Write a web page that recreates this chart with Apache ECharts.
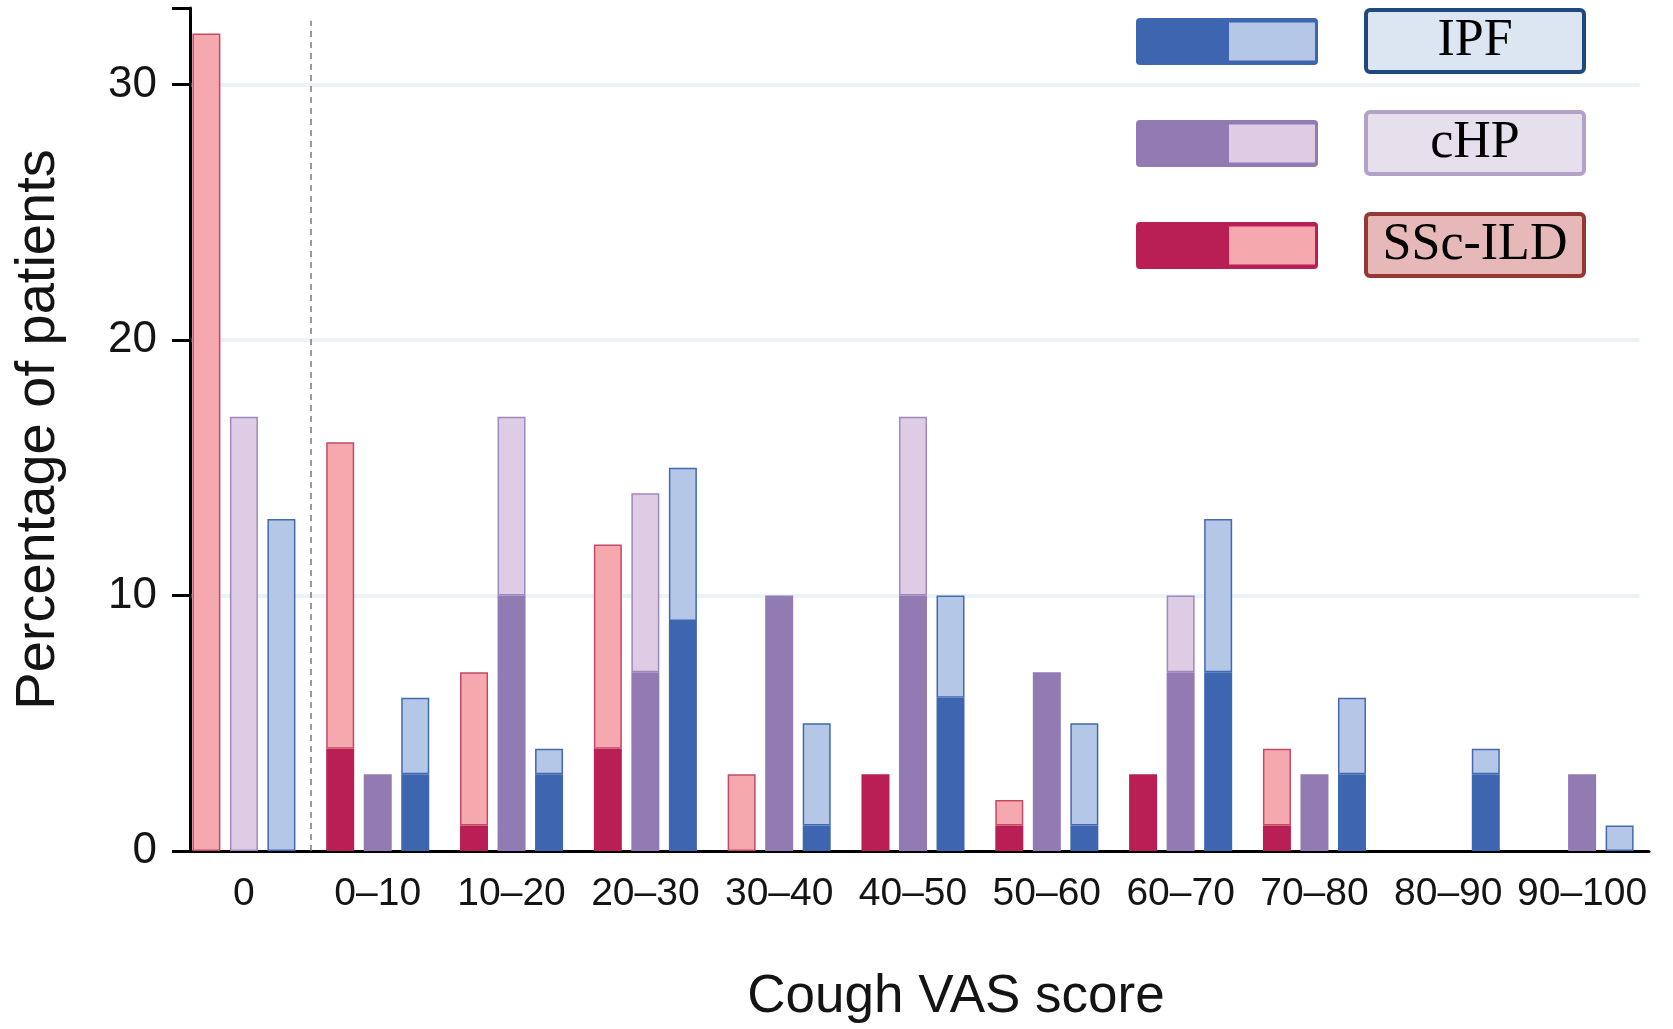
<!DOCTYPE html>
<html>
<head>
<meta charset="utf-8">
<script src="https://cdn.jsdelivr.net/npm/echarts@6/dist/echarts.min.js"></script>
<style>
html,body{margin:0;padding:0;background:#fff;}
#chart{width:1673px;height:1029px;}
</style>
</head>
<body>
<div id="chart"></div>
<script>
const categories = ['0', '0–10', '10–20', '20–30', '30–40', '40–50', '50–60', '60–70', '70–80', '80–90', '90–100'];
// SSc-ILD (red), cHP (purple), IPF (blue): dark lower part and light upper part of each stacked bar
const sscDark  = [0, 4, 1, 4, 0, 3, 1, 3, 1, 0, 0];
const sscLight = [32, 12, 6, 8, 3, 0, 1, 0, 3, 0, 0];
const chpDark  = [0, 3, 10, 7, 10, 10, 7, 7, 3, 0, 3];
const chpLight = [17, 0, 7, 7, 0, 7, 0, 3, 0, 0, 0];
const ipfDark  = [0, 3, 3, 9, 1, 6, 1, 7, 3, 3, 0];
const ipfLight = [13, 3, 1, 6, 4, 4, 4, 6, 3, 1, 1];
const yTickStep = 10;
const gridValues = [10, 20, 30];
const legendNames = ['IPF', 'cHP', 'SSc-ILD'];

const C = {
  ssc: {dark: '#B91F55', light: '#F6A8AF', edge: '#C24A66', boxFill: '#E6B9B8', boxEdge: '#953735'},
  chp: {dark: '#927AB2', light: '#DECCE4', edge: '#9E89BB', boxFill: '#E6E0EC', boxEdge: '#B3A2C7'},
  ipf: {dark: '#3E65AF', light: '#B4C7E7', edge: '#4468B2', boxFill: '#DCE6F2', boxEdge: '#1F497D'}
};

function nz(arr) { return arr.map(v => v === 0 ? '-' : v); }

function iconFor(c) {
  const svg = '<svg xmlns="http://www.w3.org/2000/svg" width="227" height="62" viewBox="0 0 227 62" preserveAspectRatio="none">' +
    '<rect x="0" y="8" width="182" height="47" rx="4" ry="4" fill="' + c.dark + '"/>' +
    '<rect x="93" y="12.5" width="86" height="38" fill="' + c.light + '"/>' +
    '</svg>';
  return 'image://data:image/svg+xml;charset=utf-8,' + encodeURIComponent(svg);
}

function barSeries(name, stack, data, color, edge, light) {
  return {
    name: name,
    type: 'bar',
    stack: stack,
    data: nz(data),
    barWidth: 28,
    barGap: '34%',
    z: 3,
    itemStyle: light ? {color: color, borderColor: edge, borderWidth: 1.5} : {color: color, borderWidth: 0},
    emphasis: {disabled: true}
  };
}

const chart = echarts.init(document.getElementById('chart'), null, {renderer: 'canvas'});
const sansFont = '"Liberation Sans", Arial, Helvetica, sans-serif';

const option = {
  animation: false,
  backgroundColor: '#ffffff',
  grid: {left: 177, right: 24, top: 8, bottom: 177, containLabel: false},
  legend: {
    orient: 'vertical',
    left: 1136,
    top: 8,
    padding: 0,
    itemWidth: 227,
    itemHeight: 62,
    itemGap: 36,
    selectedMode: false,
    data: [
      {name: 'IPF', icon: iconFor(C.ipf)},
      {name: 'cHP', icon: iconFor(C.chp)},
      {name: 'SSc-ILD', icon: iconFor(C.ssc)}
    ],
    formatter: function (n) {
      const key = n === 'IPF' ? 'ipf' : (n === 'cHP' ? 'chp' : 'ssc');
      return '{' + key + '|' + n + '}';
    },
    textStyle: {
      rich: (function () {
        const r = {};
        ['ipf', 'chp', 'ssc'].forEach(function (k) {
          r[k] = {
            width: 214, height: 58, lineHeight: 58, align: 'center', verticalAlign: 'middle',
            fontFamily: '"Liberation Serif", "Times New Roman", serif', fontSize: 52, color: '#000',
            backgroundColor: C[k].boxFill, borderColor: C[k].boxEdge, borderWidth: 4, borderRadius: 2
          };
        });
        return r;
      })()
    }
  },
  xAxis: [
    {
      type: 'category',
      data: categories,
      boundaryGap: true,
      axisLine: {lineStyle: {color: '#000', width: 3}},
      axisTick: {show: false},
      axisLabel: {interval: 0, fontFamily: sansFont, fontSize: 39, color: '#141414', margin: 24},
      splitLine: {show: false},
      name: 'Cough VAS score',
      nameLocation: 'middle',
      nameGap: 120,
      nameTextStyle: {fontFamily: sansFont, fontSize: 53, color: '#141414', padding: [0, 0, 0, 86]}
    },
    {
      type: 'value', min: 0, max: 11, show: false
    }
  ],
  yAxis: {
    type: 'value',
    min: 0,
    max: 33,
    interval: yTickStep,
    offset: -13,
    axisLine: {show: true, lineStyle: {color: '#000', width: 3}},
    axisTick: {show: true, inside: false, length: 18, lineStyle: {color: '#000', width: 3}},
    axisLabel: {
      fontFamily: sansFont, fontSize: 44, color: '#141414', margin: 33,
      formatter: function (v) { return v % yTickStep === 0 ? String(v) : ''; }
    },
    splitLine: {show: false},
    name: 'Percentage of patients',
    nameLocation: 'middle',
    nameGap: 123,
    nameTextStyle: {fontFamily: sansFont, fontSize: 56, color: '#141414'}
  },
  series: [
    {
      name: 'grid-lines', type: 'scatter', data: [], xAxisIndex: 1, z: 1, silent: true,
      markLine: {
        z: 1, silent: true, symbol: 'none', label: {show: false},
        lineStyle: {color: '#EAF3F6', width: 4, type: 'solid'},
        emphasis: {disabled: true},
        data: gridValues.map(v => [{coord: [0.11, v]}, {coord: [10.93, v]}])
      }
    },
    {
      name: 'separator', type: 'scatter', data: [], xAxisIndex: 1, z: 1, silent: true,
      markLine: {
        z: 1, silent: true, symbol: 'none', label: {show: false},
        lineStyle: {color: '#7a7a7a', width: 1.5, type: [6, 5]},
        emphasis: {disabled: true},
        data: [[{coord: [1, 0]}, {coord: [1, 32.5]}]]
      }
    },
    barSeries('SSc-ILD dark', 'ssc', sscDark, C.ssc.dark, C.ssc.edge, false),
    barSeries('SSc-ILD', 'ssc', sscLight, C.ssc.light, C.ssc.edge, true),
    barSeries('cHP dark', 'chp', chpDark, C.chp.dark, C.chp.edge, false),
    barSeries('cHP', 'chp', chpLight, C.chp.light, C.chp.edge, true),
    barSeries('IPF dark', 'ipf', ipfDark, C.ipf.dark, C.ipf.edge, false),
    barSeries('IPF', 'ipf', ipfLight, C.ipf.light, C.ipf.edge, true)
  ]
};
chart.setOption(option);
</script>
</body>
</html>
